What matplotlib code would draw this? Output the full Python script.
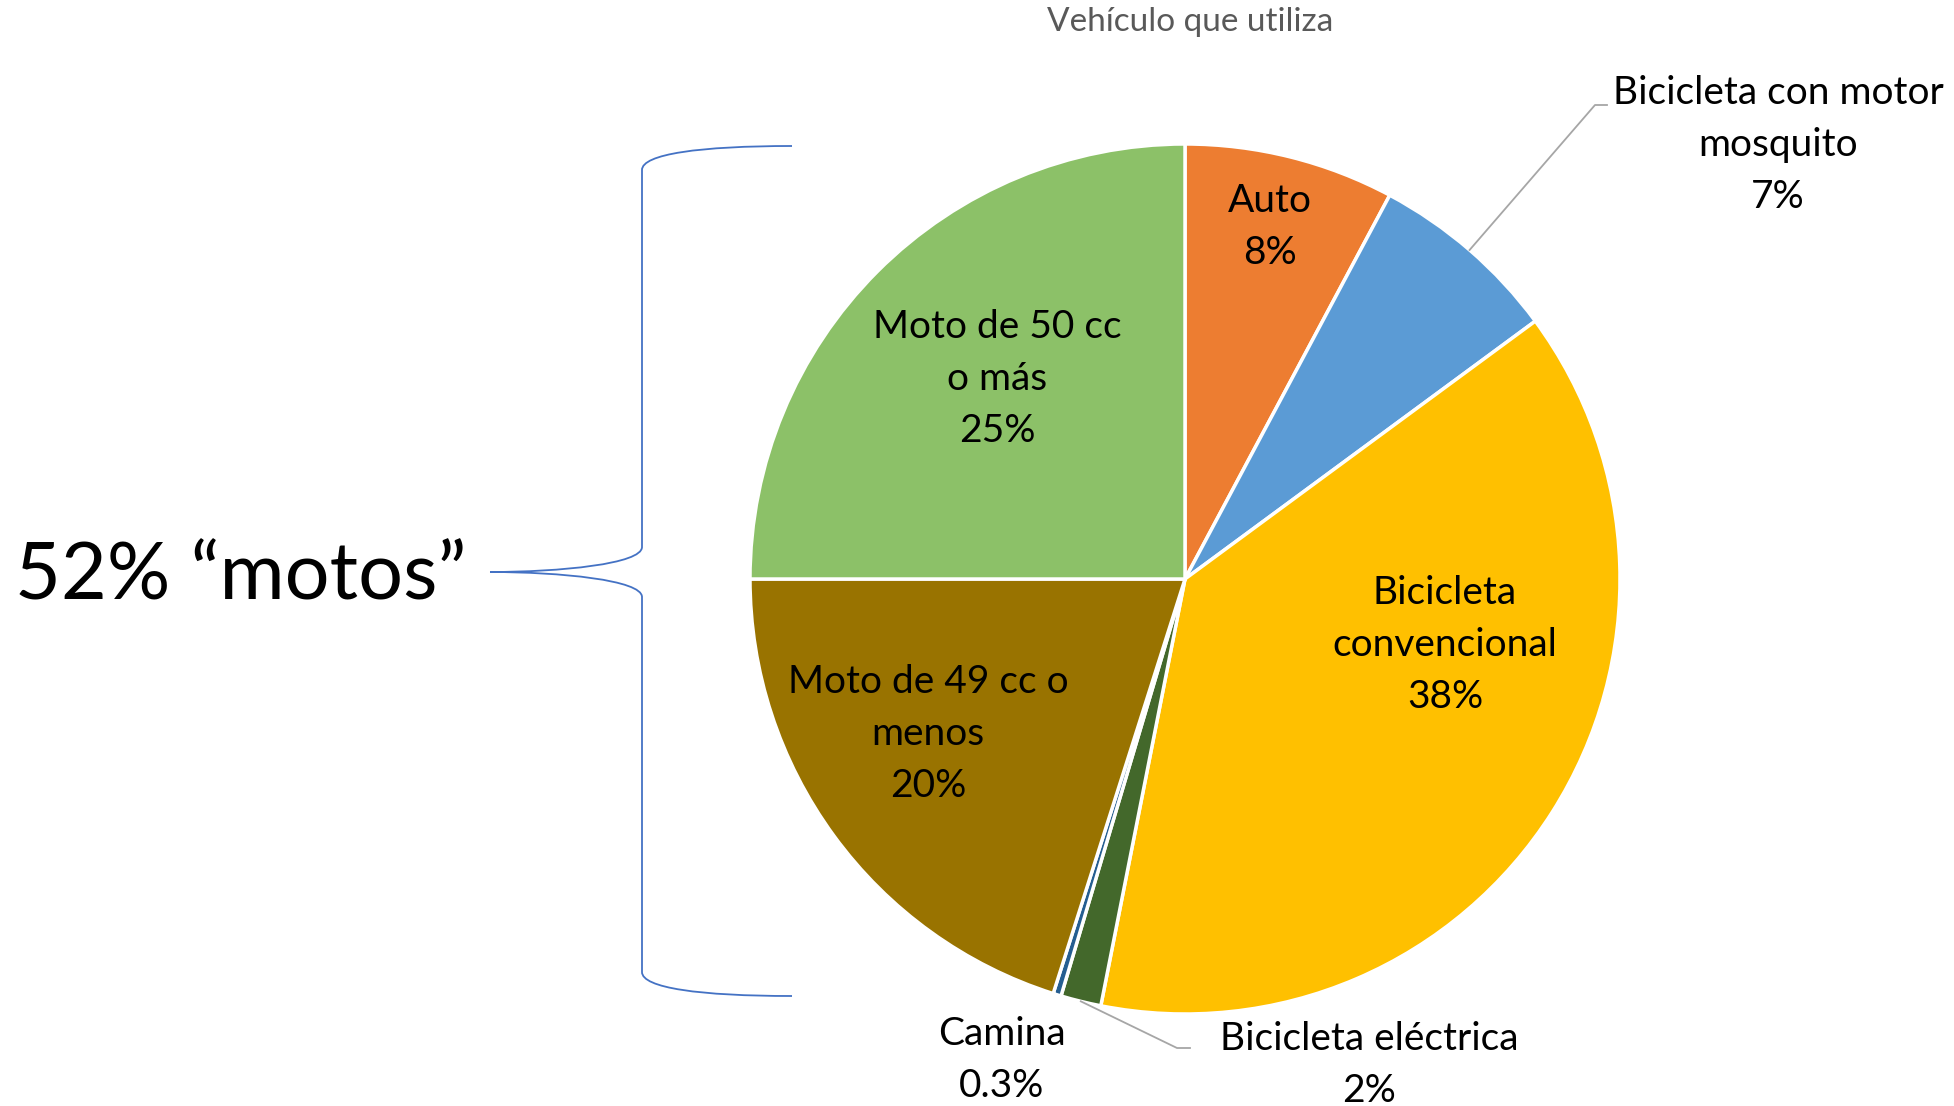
import numpy as np
import matplotlib.pyplot as plt
from matplotlib.path import Path
from matplotlib.patches import PathPatch

plt.rcParams['font.family'] = ['Lato', 'DejaVu Sans']

# data (percent of respondents)
categories = ['Auto', 'Bicicleta con motor\nmosquito', 'Bicicleta\nconvencional',
              'Bicicleta eléctrica', 'Camina', 'Moto de 49 cc o\nmenos', 'Moto de 50 cc\no más']
values = [7.8, 7.1, 38.2, 1.5, 0.3, 20.1, 25.0]
pct_labels = ['8%', '7%', '38%', '2%', '0.3%', '20%', '25%']
colors = ['#ED7D31', '#5B9BD5', '#FFC000', '#43682B', '#255E91', '#997300', '#8CC168']

W, H = 1954, 1106
fig = plt.figure(figsize=(W / 100, H / 100), dpi=100)
ax = fig.add_axes([0, 0, 1, 1])

def fy(y):
    # top-down pixel row -> axes y
    return H - y

cx, cy, r = 1185, fy(579), 435
wedges, _ = ax.pie(values, colors=colors, startangle=90, counterclock=False,
                   center=(cx, cy), radius=r,
                   wedgeprops=dict(edgecolor='white', linewidth=2.5))
ax.set_xlim(0, W)
ax.set_ylim(0, H)
ax.set_aspect('auto')
ax.axis('off')

lab_fs = 28
ls = 1.55
# inside labels (x, y in pixels from top)
inside = {0: (1270, 227), 2: (1445, 645), 5: (928, 734), 6: (997, 379)}
for i, (x, y) in inside.items():
    ax.text(x, fy(y), categories[i] + '\n' + pct_labels[i], ha='center', va='center',
            fontsize=lab_fs, color='black', linespacing=ls)

# outside labels with leader lines
def edge_point(i):
    w = wedges[i]
    a = np.deg2rad((w.theta1 + w.theta2) / 2)
    return cx + r * np.cos(a), cy + r * np.sin(a)

lc = '#A6A6A6'
px, py = edge_point(1)
ax.plot([px, 1595, 1607], [py, fy(105), fy(105)], color=lc, lw=1.3)
ax.text(1778, fy(145), categories[1] + '\n' + pct_labels[1], ha='center', va='center',
        fontsize=lab_fs, color='black', linespacing=ls)

px, py = edge_point(3)
ax.plot([px, 1177, 1190], [py, fy(1048), fy(1048)], color=lc, lw=1.3)
ax.text(1369, fy(1065), categories[3] + '\n' + pct_labels[3], ha='center', va='center',
        fontsize=lab_fs, color='black', linespacing=ls)

ax.text(1002, fy(1060), categories[4] + '\n' + pct_labels[4], ha='center', va='center',
        fontsize=lab_fs, color='black', linespacing=ls)

# title
ax.text(1190, fy(22), 'Vehículo que utiliza', ha='center', va='center',
        fontsize=24, color='#595959')

# curly brace grouping the two moto slices
xr, xv, xt = 792, 642, 490
yt, ym, yb = fy(146), fy(572), fy(996)
verts = [(xr, yt), (700, yt), (xv, yt - 8), (xv, yt - 24),
         (xv, ym + 25),
         (xv, ym + 8), (560, ym), (xt, ym),
         (560, ym), (xv, ym - 8), (xv, ym - 25),
         (xv, yb + 24),
         (xv, yb + 8), (700, yb), (xr, yb)]
codes = [Path.MOVETO, Path.CURVE4, Path.CURVE4, Path.CURVE4,
         Path.LINETO,
         Path.CURVE4, Path.CURVE4, Path.CURVE4,
         Path.CURVE4, Path.CURVE4, Path.CURVE4,
         Path.LINETO,
         Path.CURVE4, Path.CURVE4, Path.CURVE4]
ax.add_patch(PathPatch(Path(verts, codes), facecolor='none', edgecolor='#4472C4', lw=1.3))

ax.text(15, fy(577), '52% “motos”', ha='left', va='center', fontsize=57, color='black')

fig.savefig('out.png', dpi=100)
